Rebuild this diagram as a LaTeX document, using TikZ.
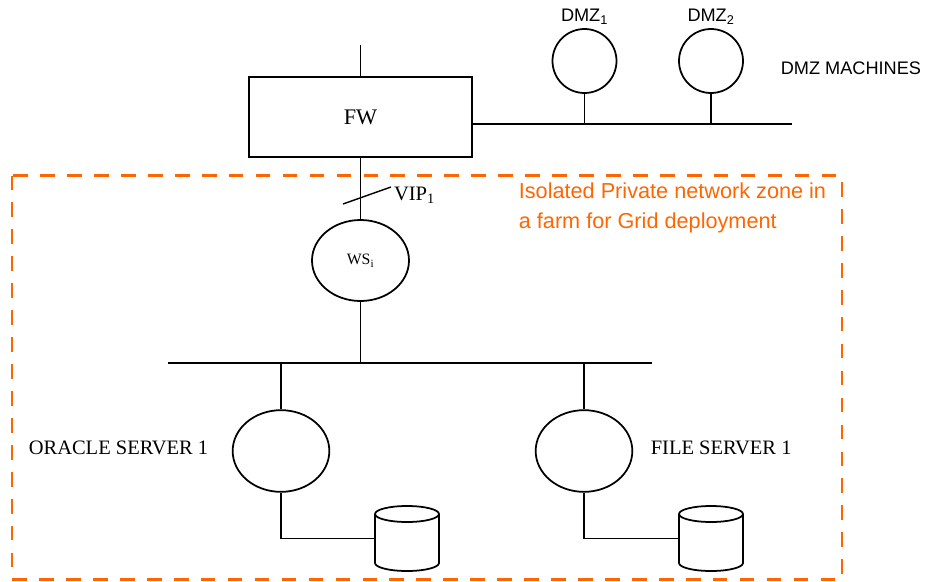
\documentclass[tikz,border=0pt]{standalone}
\usepackage{fontspec}
\setmainfont{Liberation Serif}
\newfontfamily\sansfont{Liberation Sans}
\usetikzlibrary{positioning}
\usetikzlibrary{shapes.geometric}
\definecolor{zoneorange}{RGB}{255,102,0}

\tikzset{
    host/.style={draw, ellipse, minimum width=2.9cm, minimum height=2.45cm, inner sep=0pt},
    dmzhost/.style={draw, circle, minimum size=1.92cm, inner sep=0pt},
    disk/.style={rectangle, minimum width=1.92cm, minimum height=1.95cm, inner sep=0pt, outer sep=0pt},
    serif/.style={font=\fontsize{17.5}{20}\selectfont},
    sans/.style={font=\sansfont\fontsize{15.5}{18}\selectfont},
    zone/.style={draw=zoneorange, line width=2.5pt, dash pattern=on 12.5pt off 10.5pt},
}

\begin{document}
\begin{tikzpicture}[
                            x=0.03cm, y=-0.03cm,
                            line width=1.5pt,
                            node distance=7mm
                            ]
                            \useasboundingbox (0,0) rectangle (941,581);

                            % firewall and the outside link
                            \node[draw, minimum width=6.69cm, minimum height=2.42cm,
                                  font=\fontsize{19}{22}\selectfont]  (fw)   at (360.5,117)  {FW};
                            \coordinate                             (wan)  at (360.5,45);
                            \coordinate                             (lan)  at (792,124);

                            % DMZ segment
                            \node[dmzhost]                          (dmz1) at (584.5,61)  {};
                            \node[dmzhost]                          (dmz2) at (711,61)    {};
                            \node[sans, above=-1pt of dmz1]         (l1)                  {DMZ\textsubscript{1}};
                            \node[sans, above=-1pt of dmz2]         (l2)                  {DMZ\textsubscript{2}};
                            \node[sans, anchor=west]                (dmzl) at (776,68)    {DMZ MACHINES};

                            % private zone
                            \node[host, minimum width=2.91cm, minimum height=2.43cm,
                                  font=\fontsize{13.5}{15}\selectfont] (ws) at (360.5,260.5) {WS\textsubscript{i}};
                            \coordinate                             (vipa) at (343,204);
                            \coordinate                             (vipb) at (391,187);
                            \node[serif, anchor=west, inner sep=1pt] (vip) at (392,195)   {VIP\textsubscript{1}};

                            \coordinate                             (busl) at (168,363);
                            \coordinate                             (busr) at (652,363);

                            \node[host]                             (ora)  at (281,451)   {};
                            \node[host]                             (fs)   at (584,451)   {};
                            \node[serif, anchor=west]               (oral) at (24,448)    {ORACLE SERVER 1};
                            \node[serif, anchor=west]               (fsl)  at (646,448)   {FILE SERVER 1};

                            \node[disk]                             (db1)  at (407,538.5) {};
                            \node[disk]                             (db2)  at (711,538.5) {};

                            % disk outlines
                            \foreach \d in {db1,db2} {
                                \draw (\d.north) ++(0,8) ellipse [x radius=32, y radius=8];
                                \draw (\d.north west) ++(0,8) -- ++(0,49)
                                      arc [start angle=180, end angle=0, x radius=32, y radius=8] -- ++(0,-49);
                            }

                            % links
                            \draw (wan) -- (fw.north);
                            \draw (fw.east |- lan) -- (lan);
                            \draw (dmz1.south) -- (dmz1 |- lan);
                            \draw (dmz2.south) -- (dmz2 |- lan);

                            \draw (fw.south) -- (ws.north);
                            \draw[line width=1.2pt] (vipa) -- (vipb);
                            \draw (ws.south) -- (ws |- busl);
                            \draw (busl) -- (busr);
                            \draw (ora |- busl) -- (ora.north);
                            \draw (fs |- busl) -- (fs.north);
                            \draw (ora.south) |- (db1.west);
                            \draw (fs.south) |- (db2.west);

                            % isolated zone
                            \draw[zone] (12,175.5) rectangle (842,579.5);
                            \node[anchor=north west, align=left, text=zoneorange, inner sep=0pt,
                                  font=\sansfont\fontsize{18.5}{25.5}\selectfont] (zonel) at (518,182)
                                  {Isolated Private network zone in\\a farm for Grid deployment};
                        \end{tikzpicture}
\end{document}
